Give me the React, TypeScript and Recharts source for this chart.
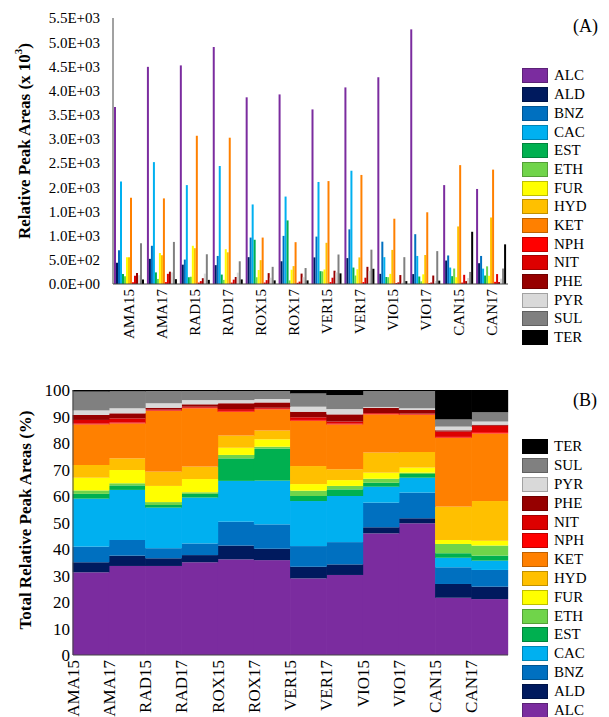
import React from 'react';
import { BarChart, Bar, XAxis, YAxis } from 'recharts';

const SAMPLES = ['AMA15', 'AMA17', 'RAD15', 'RAD17', 'ROX15', 'ROX17', 'VER15', 'VER17', 'VIO15', 'VIO17', 'CAN15', 'CAN17'];
const COMPOUNDS = ['ALC', 'ALD', 'BNZ', 'CAC', 'EST', 'ETH', 'FUR', 'HYD', 'KET', 'NPH', 'NIT', 'PHE', 'PYR', 'SUL', 'TER'];

// (A) relative peak areas
const ALC = [3660, 4490, 4520, 4900, 3860, 3920, 3610, 4065, 4275, 5265, 2045, 1965];
const ALD = [440, 520, 400, 390, 555, 470, 550, 535, 210, 205, 485, 430];
const BNZ = [700, 790, 505, 580, 960, 995, 980, 1130, 875, 1030, 590, 580];
const CAC = [2120, 2520, 2045, 2440, 1645, 1808, 2110, 2342, 555, 580, 340, 318];
const EST = [205, 240, 140, 195, 915, 1315, 265, 340, 145, 155, 162, 175];
const ETH = [160, 105, 150, 85, 140, 75, 260, 175, 140, 55, 320, 365];
const FUR = [555, 640, 790, 720, 290, 295, 300, 305, 210, 200, 140, 170];
const HYD = [555, 595, 740, 655, 493, 370, 852, 550, 705, 600, 1190, 1375];
const KET = [1785, 1770, 3065, 3025, 960, 865, 2128, 2255, 1350, 1483, 2458, 2365];
const NPH = [35, 40, 30, 30, 30, 25, 40, 40, 20, 20, 30, 45];
const NIT = [170, 210, 60, 90, 80, 50, 130, 130, 35, 30, 190, 205];
const PHE = [225, 255, 120, 145, 225, 215, 275, 355, 185, 175, 60, 40];
const PYR = [180, 240, 215, 235, 130, 140, 240, 270, 30, 60, 125, 110];
const SUL = [845, 870, 615, 470, 355, 330, 610, 710, 555, 680, 250, 320];
const TER = [95, 100, 85, 95, 75, 75, 220, 315, 60, 70, 1080, 820];

// (B) total relative peak areas, %
const ALC_P = [31.2, 33.6, 33.6, 35.0, 36.1, 35.8, 28.9, 30.2, 45.9, 49.7, 21.6, 21.1];
const ALD_P = [3.8, 3.9, 2.9, 2.7, 5.2, 4.3, 4.4, 4.0, 2.3, 1.9, 5.2, 4.7];
const BNZ_P = [5.9, 5.9, 3.8, 4.4, 9.0, 9.2, 7.8, 8.4, 9.3, 9.7, 6.3, 6.3];
const CAC_P = [18.1, 18.9, 15.3, 17.3, 15.4, 16.5, 17.0, 17.4, 6.0, 5.6, 3.6, 3.5];
const EST_P = [1.8, 1.7, 1.0, 1.4, 8.5, 12.1, 1.9, 2.5, 1.5, 1.4, 1.7, 1.9];
const ETH_P = [1.3, 0.8, 1.1, 0.6, 1.3, 0.7, 2.0, 1.3, 1.5, 0.5, 3.5, 3.8];
const FUR_P = [4.8, 5.0, 6.1, 5.0, 2.7, 2.8, 2.5, 2.2, 2.3, 1.9, 1.5, 1.8];
const HYD_P = [4.8, 4.4, 5.4, 4.7, 4.6, 3.3, 6.8, 4.1, 7.6, 5.9, 12.6, 15.0];
const KET_P = [15.3, 13.2, 22.9, 22.0, 9.0, 8.0, 17.1, 16.9, 14.4, 14.0, 26.0, 25.5];
const NPH_P = [0.3, 0.3, 0.2, 0.2, 0.3, 0.2, 0.3, 0.3, 0.2, 0.2, 0.3, 0.5];
const NIT_P = [1.4, 1.6, 0.3, 0.4, 0.7, 0.4, 1.0, 0.8, 0.3, 0.3, 2.0, 2.4];
const PHE_P = [1.9, 1.9, 0.7, 0.9, 2.2, 2.0, 2.1, 2.7, 2.0, 1.4, 0.5, 0.4];
const PYR_P = [1.7, 1.9, 1.7, 1.6, 1.2, 1.3, 1.9, 2.0, 0.3, 0.6, 1.4, 1.2];
const SUL_P = [7.1, 6.4, 4.6, 3.4, 3.4, 3.0, 5.0, 5.3, 6.0, 6.5, 2.7, 3.5];
const TER_P = [0.6, 0.5, 0.4, 0.4, 0.4, 0.4, 1.3, 1.9, 0.4, 0.4, 11.1, 8.4];

const Y_TICKS_A = [0, 500, 1000, 1500, 2000, 2500, 3000, 3500, 4000, 4500, 5000, 5500];
const Y_LABELS_A = ['0.0E+00', '5.0E+02', '1.0E+03', '1.0E+03', '2.0E+03', '2.5E+03', '3.0E+03', '3.5E+03', '4.0E+03', '4.5E+03', '5.0E+03', '5.5E+03'];
const Y_TICKS_B = [0, 10, 20, 30, 40, 50, 60, 70, 80, 90, 100];

const RAW: Record<string, number[]> = { ALC, ALD, BNZ, CAC, EST, ETH, FUR, HYD, KET, NPH, NIT, PHE, PYR, SUL, TER };
const PCT: Record<string, number[]> = {
  ALC: ALC_P, ALD: ALD_P, BNZ: BNZ_P, CAC: CAC_P, EST: EST_P, ETH: ETH_P, FUR: FUR_P, HYD: HYD_P,
  KET: KET_P, NPH: NPH_P, NIT: NIT_P, PHE: PHE_P, PYR: PYR_P, SUL: SUL_P, TER: TER_P,
};

const COLORS: Record<string, string> = {
  ALC: '#7b2c9f', ALD: '#001a5e', BNZ: '#0070c0', CAC: '#00b0f0', EST: '#00b050',
  ETH: '#70d44a', FUR: '#ffff00', HYD: '#ffc000', KET: '#ff8000', NPH: '#ff0000',
  NIT: '#dd0000', PHE: '#960000', PYR: '#d9d9d9', SUL: '#808080', TER: '#000000',
};

const FONT = '"Liberation Serif", "Times New Roman", serif';
const AXIS = '#444';

const rawRows = SAMPLES.map((name, i) => {
  const row: any = { name };
  COMPOUNDS.forEach((k) => { row[k] = RAW[k][i]; });
  return row;
});
const pctRows = SAMPLES.map((name, i) => {
  const row: any = { name };
  COMPOUNDS.forEach((k) => { row[k] = PCT[k][i]; });
  return row;
});

// rotated category label, reads bottom-to-top, ends at the axis
const RotTick = ({ x, y, payload, size, shift = 0 }: any) => (
  <text
    x={x + shift}
    y={y}
    transform={`rotate(-90 ${x + shift} ${y})`}
    textAnchor="end"
    dominantBaseline="central"
    fontFamily={FONT}
    fontSize={size}
    fill="#000"
  >
    {payload.value}
  </text>
);

// stacked column stretched to fill the whole band (step-like look, no seams)
const FullBand = (band: number) => (p: any) => {
  const { x, y, width, height, fill } = p;
  if (!height || height <= 0) return <g />;
  const cx = x + width / 2;
  return <rect x={cx - band / 2 - 0.3} y={y} width={band + 0.6} height={height} fill={fill} />;
};

const Legend = ({ items, left, top, step }: { items: string[]; left: number; top: number; step: number }) => (
  <div style={{ position: 'absolute', left, top, fontFamily: FONT, fontSize: 15 }}>
    {items.map((k) => (
      <div key={k} style={{ display: 'flex', alignItems: 'center', height: step }}>
        <div style={{ width: 24, height: 13, background: COLORS[k], border: '1px solid rgba(0,0,0,0.25)' }} />
        <span style={{ marginLeft: 6, lineHeight: 1 }}>{k}</span>
      </div>
    ))}
  </div>
);

export default function App() {
  const bandB = (609 - 73 - 101) / SAMPLES.length;
  const colShape = FullBand(bandB);

  return (
    <div style={{ position: 'absolute', left: 0, top: 0, width: 609, height: 717, background: '#fff', overflow: 'hidden' }}>
      {/* (A) */}
      <div style={{ position: 'absolute', left: 0, top: 0 }}>
        <BarChart width={609} height={350} data={rawRows} margin={{ top: 18, right: 101, bottom: 0, left: 0 }} barGap={0} barSize={2}>
          <XAxis
            dataKey="name"
            height={66}
            interval={0}
            tickSize={0}
            tickMargin={5}
            tickLine={false}
            axisLine={{ stroke: AXIS }}
            tick={(p: any) => <RotTick {...p} size={15} />}
          />
          <XAxis xAxisId="top" dataKey="name" orientation="top" height={0} mirror tick={false} tickSize={4} axisLine={{ stroke: AXIS }} tickLine={{ stroke: AXIS }} />
          <YAxis
            width={113}
            type="number"
            domain={[0, 5500]}
            ticks={Y_TICKS_A}
            interval={0}
            tickSize={0}
            tickMargin={13}
            axisLine={{ stroke: AXIS }}
            tickFormatter={(v: number) => Y_LABELS_A[Y_TICKS_A.indexOf(v)]}
            tick={{ fontFamily: FONT, fontSize: 15, fill: '#000' }}
            label={() => (
              <text x={24} y={141} transform="rotate(-90 24 141)" textAnchor="middle" dominantBaseline="central"
                fontFamily={FONT} fontSize={17} fontWeight="bold" fill="#000">
                Relative Peak Areas (x 10<tspan dy={-6} fontSize={11}>3</tspan><tspan dy={6}>)</tspan>
              </text>
            )}
          />
          <YAxis yAxisId="right" orientation="right" width={0} mirror type="number" domain={[0, 5500]} ticks={Y_TICKS_A} interval={0}
            tick={false} tickSize={4} axisLine={{ stroke: AXIS }} tickLine={{ stroke: AXIS }} />
          {COMPOUNDS.map((k) => (
            <Bar key={k} dataKey={k} fill={COLORS[k]} isAnimationActive={false} />
          ))}
        </BarChart>
      </div>
      <div style={{ position: 'absolute', left: 573, top: 17, fontFamily: FONT, fontSize: 18, lineHeight: 1 }}>(A)</div>
      <Legend items={COMPOUNDS} left={522} top={66.6} step={18.7} />

      {/* (B) */}
      <div style={{ position: 'absolute', left: 0, top: 360 }}>
        <BarChart width={609} height={357} data={pctRows} margin={{ top: 30, right: 101, bottom: 0, left: 0 }} barCategoryGap="0%">
          <XAxis
            dataKey="name"
            height={62}
            interval={0}
            tickSize={0}
            tickMargin={5}
            tickLine={false}
            axisLine={{ stroke: AXIS }}
            tick={(p: any) => <RotTick {...p} size={17} shift={-bandB / 2} />}
          />
          <XAxis xAxisId="top" dataKey="name" orientation="top" height={0} tick={false} tickLine={false} axisLine={{ stroke: AXIS }} />
          <YAxis
            width={73}
            type="number"
            domain={[0, 100]}
            allowDataOverflow
            ticks={Y_TICKS_B}
            interval={0}
            tickSize={0}
            tickMargin={3}
            axisLine={{ stroke: AXIS }}
            tick={{ fontFamily: FONT, fontSize: 17, fill: '#000' }}
            label={() => (
              <text x={25} y={160} transform="rotate(-90 25 160)" textAnchor="middle" dominantBaseline="central"
                fontFamily={FONT} fontSize={17} fontWeight="bold" fill="#000">
                Total Relative Peak Areas (%)
              </text>
            )}
          />
          <YAxis yAxisId="right" orientation="right" width={0} mirror type="number" domain={[0, 100]} ticks={Y_TICKS_B} interval={0}
            tick={false} tickSize={4} axisLine={{ stroke: AXIS }} tickLine={{ stroke: AXIS }} />
          {COMPOUNDS.map((k) => (
            <Bar key={k} dataKey={k} stackId="p" fill={COLORS[k]} shape={colShape} isAnimationActive={false} />
          ))}
        </BarChart>
      </div>
      <div style={{ position: 'absolute', left: 573, top: 391, fontFamily: FONT, fontSize: 18, lineHeight: 1 }}>(B)</div>
      <Legend items={[...COMPOUNDS].reverse()} left={522} top={437.6} step={18.8} />
    </div>
  );
}
